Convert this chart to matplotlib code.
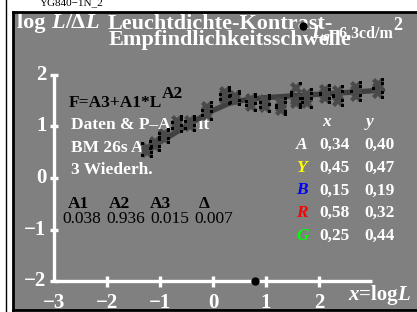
import matplotlib
matplotlib.use('Agg')
import matplotlib.pyplot as plt
import numpy as np
from matplotlib.path import Path
from matplotlib.lines import Line2D

plt.rcParams['font.family'] = ['Liberation Serif', 'DejaVu Serif']

W, H = 417, 312

# ---- data ----
fit_x = [-1.25, -0.9, -0.62, -0.3, -0.06, 0.32, 0.6, 0.94, 1.5, 2.0, 2.6, 3.2]
fit_y = [0.54, 0.76, 0.93, 1.13, 1.28, 1.45, 1.51, 1.55, 1.59, 1.62, 1.66, 1.70]

col_x = [-1.25, -1.10, -0.92, -0.68, -0.43, -0.12, 0.22, 0.42, 0.72, 0.98,
         1.28, 1.57, 1.77, 2.11, 2.36, 2.70, 3.11]
rep1 = [0.53, 0.66, 0.83, 1.05, 1.05, 1.30, 1.60, 1.55, 1.48, 1.45,
        1.45, 1.75, 1.55, 1.70, 1.68, 1.76, 1.82]
rep2 = [0.58, 0.62, 0.78, 0.98, 1.00, 1.22, 1.52, 1.50, 1.40, 1.38,
        1.32, 1.50, 1.45, 1.55, 1.48, 1.58, 1.65]
rep3 = [0.50, 0.70, 0.86, 1.10, 1.10, 1.37, 1.66, 1.58, 1.52, 1.50,
        1.38, 1.45, 1.62, 1.62, 1.58, 1.68, 1.75]

xticks = [-3, -2, -1, 0, 1, 2]
yticks = [-2, -1, 0, 1, 2]
adapt_x = [0.79]      # dot on x axis
top_dot_x = [1.70]    # dot at top
top_dot_y = [2.94]

param_names = ['A1', 'A2', 'A3', 'Δ']
param_vals = ['0.038', '0.936', '0.015', '0.007']

chroma_names = ['A', 'Y', 'B', 'R', 'G']
chroma_colors = ['white', '#ffff00', '#0000ff', '#ff0000', '#00ff00']
chroma_x = ['0,34', '0,45', '0,15', '0,58', '0,25']
chroma_y = ['0,40', '0,47', '0,19', '0,32', '0,44']

fig = plt.figure(figsize=(W / 100, H / 100), dpi=100)
fig.patch.set_facecolor('white')

ax = fig.add_axes([13 / W, 2 / H, 406 / W, 298 / H])
ax.set_facecolor('#808080')
ax.set_xlim(-3.774, 3.887)
ax.set_ylim(-2.553, 3.211)
ax.set_xticks([]); ax.set_yticks([])
for s in ax.spines.values():
    s.set_color('black'); s.set_linewidth(2)
ax.spines['right'].set_visible(False)

# outer thin line at left
fig.add_artist(Line2D([5.5 / W, 5.5 / W], [0, 1], color='black', lw=1))

# axes lines
ax.plot([xticks[0], 3], [yticks[0], yticks[0]], color='white', lw=2.4, solid_capstyle='butt')
ax.plot([xticks[0], xticks[0]], [yticks[0], yticks[-1]], color='white', lw=2.4, solid_capstyle='butt')
for xv in xticks[1:]:
    ax.plot([xv, xv], [yticks[0] - 0.1, yticks[0] + 0.1], color='white', lw=2.4, solid_capstyle='butt')
for yv in yticks:
    ax.plot([xticks[0] - 0.08, xticks[0] + 0.08], [yv, yv], color='white', lw=2.4, solid_capstyle='butt')

tick_fs = 15
for xv in xticks:
    ax.text(xv, -2.51, '−%d' % -xv if xv < 0 else '%d' % xv, color='white',
            fontsize=tick_fs, fontweight='bold', ha='center', va='baseline')
for yv in yticks:
    ax.text(-3.14, yv, '−%d' % -yv if yv < 0 else '%d' % yv, color='white',
            fontsize=tick_fs, fontweight='bold', ha='right', va='center')

# fit line
ax.plot(fit_x, fit_y, color='#404040', lw=3.8, solid_capstyle='round', zorder=3)

# data markers
def dots_path(corners, sq=0.22):
    verts, codes = [], []
    for cx, cy in corners:
        verts += [(cx - sq, cy - sq), (cx + sq, cy - sq), (cx + sq, cy + sq),
                  (cx - sq, cy + sq), (cx - sq, cy - sq)]
        codes += [Path.MOVETO, Path.LINETO, Path.LINETO, Path.LINETO, Path.CLOSEPOLY]
    verts += [(-1, -1), (1, 1)]
    codes += [Path.MOVETO, Path.MOVETO]
    return Path(verts, codes)

d = 0.72
marker_sets = [dots_path([(d, d), (-d, -d)]),
               dots_path([(-d, d), (d, -d)]),
               dots_path([(d, d), (d, -d)])]
for reps, mk in zip((rep1, rep2, rep3), marker_sets):
    ax.plot(col_x, reps, ls='none', marker='X', ms=9, color='#4a4a4a', mew=0, zorder=4)
    ax.plot(col_x, reps, ls='none', marker=mk, ms=9, color='black', mew=0, zorder=5)

# special dots
ax.plot(adapt_x, [yticks[0]], 'o', color='black', ms=5, clip_on=False, zorder=6)
ax.plot(top_dot_x, top_dot_y, 'o', color='black', ms=5, clip_on=False, zorder=6)

renderer = fig.canvas.get_renderer()
TF = fig.transFigure


def ft(px, py, s, **kw):
    kw.setdefault('va', 'baseline')
    kw.setdefault('zorder', 2)
    return ax.text(px / W, 1 - py / H, s, transform=TF, clip_on=False, **kw)


def seq(px, py, segs):
    """draw consecutive text segments starting at pixel (px, py baseline)."""
    x = px
    for s, kw in segs:
        kw = dict(kw)
        dy = kw.pop('dy', 0)
        t = ft(x, py - dy, s, ha='left', **kw)
        bb = t.get_window_extent(renderer)
        x += bb.width


B = dict(fontweight='bold')
# top small text (cut by the top edge as in the reference)
fig.text(40 / W, 1 - 5 / H, 'YG840−1N_2', fontsize=8, color='black', va='baseline')

# title area
tfs = 16
seq(17, 28, [('log ', dict(fontsize=tfs, color='white', **B)),
             ('L', dict(fontsize=tfs, color='white', style='italic', **B)),
             ('/Δ', dict(fontsize=tfs, color='white', **B)),
             ('L', dict(fontsize=tfs, color='white', style='italic', **B))])
ft(108, 29, 'Leuchtdichte-Kontrast-', fontsize=tfs, color='white', **B)
ft(109, 45, 'Empfindlichkeitsschwelle', fontsize=tfs, color='white', **B)
seq(311, 38, [('L', dict(fontsize=14, color='white', style='italic', **B)),
              ('q', dict(fontsize=10, color='white', style='italic', dy=-3, **B)),
              ('=6,3cd/m', dict(fontsize=11.5, color='white', **B)),
              ('2', dict(fontsize=13, color='white', dy=8, **B))])

# left texts
fs = 12.5
seq(69, 107, [('F=A3+A1*L', dict(fontsize=fs, color='black', **B)),
              ('A2', dict(fontsize=fs, color='black', dy=9, **B))])
ft(71, 129, 'Daten & P–A2–Fit', fontsize=fs, color='white', **B)
ft(71, 152, 'BM 26s A', fontsize=fs, color='white', **B)
ft(71, 174, '3 Wiederh.', fontsize=fs, color='white', **B)

name_px = [68, 109, 150, 199]
val_px = [62, 106, 150, 194]
for n, px in zip(param_names, name_px):
    ft(px, 208, n, fontsize=fs, color='black', **B)
for v, px in zip(param_vals, val_px):
    ft(px, 223, v, fontsize=fs, color='black')

# right table
ft(322, 126, 'x', fontsize=fs, color='white', style='italic', **B)
ft(366, 126, 'y', fontsize=fs, color='white', style='italic', **B)
for i, (n, c, xv, yv) in enumerate(zip(chroma_names, chroma_colors, chroma_x, chroma_y)):
    py = 149 + i * 22.7
    ft(296, py, n, fontsize=fs, color=c, style='italic', **B)
    ft(319, py, xv, fontsize=fs, color='white', **B)
    ft(364, py, yv, fontsize=fs, color='white', **B)

# x axis label
seq(348, 300, [('x', dict(fontsize=15, color='white', style='italic', **B)),
               ('=log', dict(fontsize=15, color='white', **B)),
               ('L', dict(fontsize=15, color='white', style='italic', **B))])

fig.savefig('out.png', dpi=100, facecolor='white')
